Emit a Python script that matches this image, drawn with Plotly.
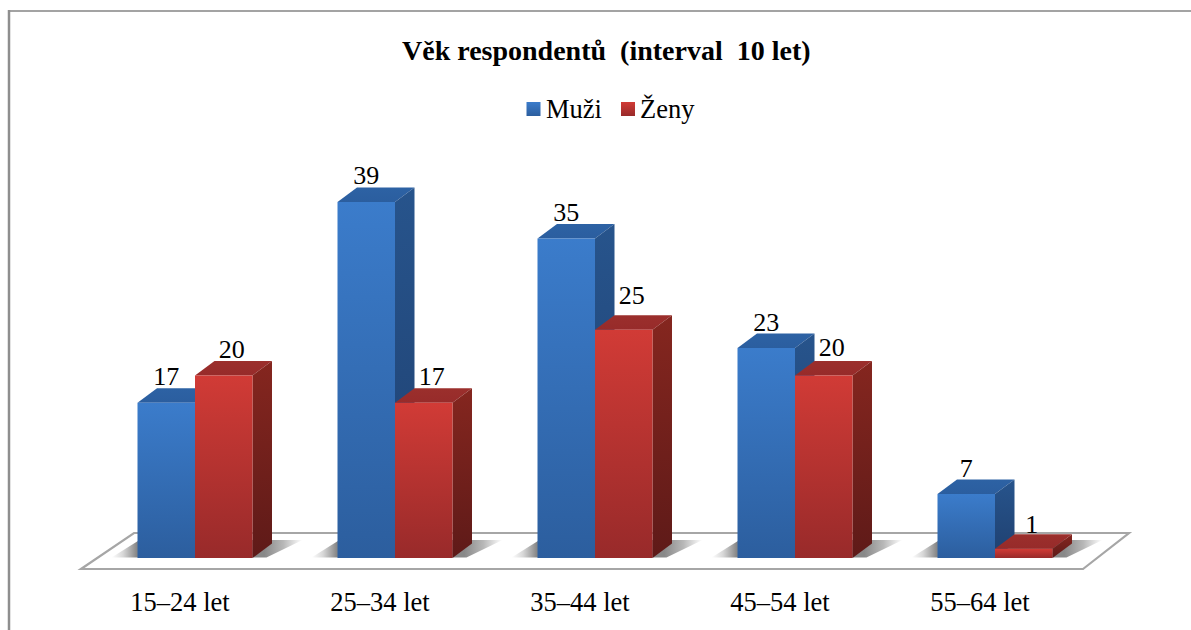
import plotly.graph_objects as go

# ---- data ----
categories = ["15–24 let", "25–34 let", "35–44 let", "45–54 let", "55–64 let"]
muzi = [17, 39, 35, 23, 7]
zeny = [20, 17, 25, 20, 1]
title = "Věk respondentů&nbsp; (interval&nbsp; 10 let)"

# ---- label lift above each bar, in value units ----
muzi_lift = [2.63, 2.63, 2.63, 2.63, 2.63]
zeny_lift = [2.63, 2.63, 3.5, 2.85, 2.4]

# ---- geometry (pixels of the 1191x630 page mapped to axis units) ----
W, H = 1191, 630
AXIS_BOTTOM = 583
X0, XSTEP = 195.0, 200.0      # px of first category, px per category
Y0, YSTEP = 558.0, 9.13       # px of value 0, px per unit
BAR = 57.5 / XSTEP
DX, DY = 19.5 / XSTEP, 14.5 / YSTEP
TICK_SHIFT = -15 / XSTEP
xr = [(0 - X0) / XSTEP, (W - X0) / XSTEP]
yr = [(Y0 - AXIS_BOTTOM) / YSTEP, Y0 / YSTEP]
px = lambda p: (p - X0) / XSTEP
py = lambda p: (Y0 - p) / YSTEP
paper_y = lambda p: (AXIS_BOTTOM - p) / AXIS_BOTTOM

SERIES = [
    ("Muži", muzi, muzi_lift, -BAR, 0.0,
     ["#3B7CCB", "#2C5E9E"], ["#2D62A4", "#2B5E9F"], ["#27548C", "#1F4070"]),
    ("Ženy", zeny, zeny_lift, 0.0, 8 / XSTEP,
     ["#D13B36", "#982A2A"], ["#9B2F2C", "#972B2A"], ["#85261F", "#5E1A18"]),
]


def grad(colors):
    return dict(type="vertical", colorscale=[[0, colors[1]], [1, colors[0]]])


def poly(xs, ys, colors, name):
    return go.Scatter(x=xs + xs[:1], y=ys + ys[:1], mode="lines", fill="toself",
                      line=dict(width=0), fillgradient=grad(colors),
                      hoverinfo="skip", showlegend=False, name=name)


fig = go.Figure()

# soft floor shadows
for i in range(len(categories)):
    l, r = i - BAR - 26 / XSTEP, i + BAR + 50 / XSTEP
    b, t = py(557.5), py(540)
    fig.add_trace(go.Scatter(
        x=[l, i + BAR + 14 / XSTEP, r, i - BAR + 2 / XSTEP, l], y=[b, b, t, t, b],
        mode="lines", fill="toself", line=dict(width=0), hoverinfo="skip", showlegend=False,
        fillgradient=dict(type="horizontal", colorscale=[
            [0, "rgba(130,130,130,0)"], [0.06, "rgba(125,125,125,0.3)"],
            [0.13, "rgba(115,115,115,0.85)"], [0.8, "rgba(115,115,115,0.85)"],
            [0.9, "rgba(125,125,125,0.55)"], [1, "rgba(130,130,130,0)"]])))

# the bars: faces drawn back to front from the values
for name, vals, lift, off, lab, front, top, side in SERIES:
    for i, v in enumerate(vals):
        l, r = i + off, i + off + BAR
        fig.add_trace(poly([l, r, r + DX, l + DX], [v, v, v + DY, v + DY], top, name))
        fig.add_trace(poly([r, r + DX, r + DX, r], [0, DY, v + DY, v], side, name))
        fig.add_trace(poly([l, r, r, l], [0, 0, v, v], front, name))

# value labels
for name, vals, lift, off, lab, front, top, side in SERIES:
    fig.add_trace(go.Scatter(
        x=[i + off + BAR / 2 + lab for i in range(len(vals))],
        y=[v + d for v, d in zip(vals, lift)], text=[str(v) for v in vals],
        mode="text", textfont=dict(family="Liberation Serif", size=26, color="#000"),
        hoverinfo="skip", showlegend=False, cliponaxis=False))

# legend keys
for name, cx, colors, tx in [("Muži", 533.5, SERIES[0][5], 546), ("Ženy", 628, SERIES[1][5], 640)]:
    fig.add_trace(go.Scatter(
        x=[px(cx)], y=[py(109)], mode="markers", hoverinfo="skip", showlegend=False,
        marker=dict(symbol="square", size=14, color=colors[0],
                    gradient=dict(type="vertical", color=colors[1]), line=dict(width=0))))
    fig.add_annotation(x=px(tx), y=py(109), xref="x", yref="y", text=name, showarrow=False,
                       xanchor="left", xshift=-2, font=dict(family="Liberation Serif", size=26.5, color="#000"))

# floor
floor = (f"M {px(81)} {py(569)} L {px(1083)} {py(569)} L {px(1129)} {py(533)} "
         f"L {px(134)} {py(533)} Z")
shapes = [
    dict(type="path", path=floor, xref="x", yref="y", layer="below",
         fillcolor="#FFFFFF", line=dict(color="#A6A6A6", width=2.2)),
    dict(type="line", xref="paper", yref="paper", x0=9 / W, x1=1, y0=paper_y(11), y1=paper_y(11),
         line=dict(color="#A3A3A3", width=2)),
    dict(type="line", xref="paper", yref="paper", x0=9 / W, x1=9 / W, y0=paper_y(H), y1=paper_y(10),
         line=dict(color="#8E8E8E", width=2.5)),
]

fig.add_annotation(x=px(606), y=py(50), xref="x", yref="y", text=f"<b>{title}</b>", showarrow=False,
                   font=dict(family="Liberation Serif", size=28, color="#000"))

fig.update_layout(
    width=W, height=H, margin=dict(l=0, r=0, t=0, b=H - AXIS_BOTTOM),
    paper_bgcolor="#FFFFFF", plot_bgcolor="#FFFFFF", showlegend=False, shapes=shapes,
    xaxis=dict(range=xr, showgrid=False, zeroline=False, showline=False, tickmode="array",
               tickvals=[i + TICK_SHIFT for i in range(len(categories))], ticktext=categories,
               ticks="", tickfont=dict(family="Liberation Serif", size=26.5, color="#000"),
               automargin=False, fixedrange=True),
    yaxis=dict(range=yr, visible=False, fixedrange=True),
)
fig.write_html("out.html", config=dict(displayModeBar=False),
               post_script="document.body.style.margin='0';")
